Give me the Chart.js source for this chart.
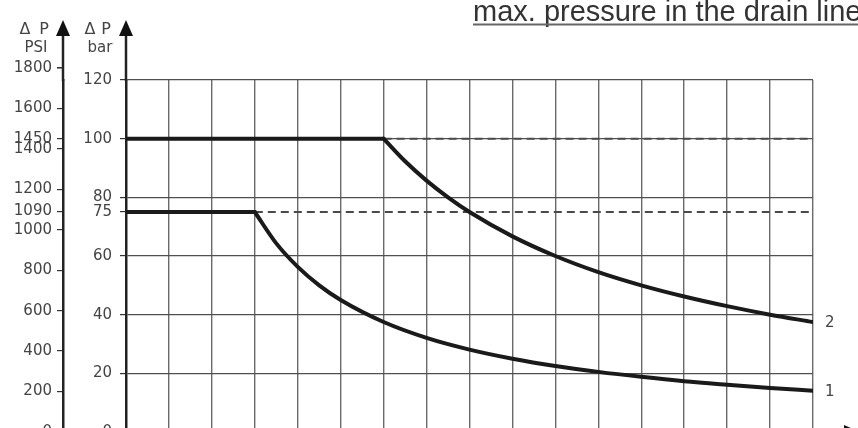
<!DOCTYPE html>
<html>
<head>
<meta charset="utf-8">
<script src="https://cdn.jsdelivr.net/npm/chart.js@4.4.1/dist/chart.umd.min.js"></script>
<style>
  html, body { margin: 0; padding: 0; background: #fff; overflow: hidden; }
  #wrap { width: 858px; height: 428px; overflow: hidden; }
</style>
</head>
<body>
<div id="wrap"><canvas id="chart" width="858" height="480"></canvas></div>
<script>
  // Curve 2: flat section then decline (x = grid divisions, y = delta P in bar)
  var curve2FlatX = [0, 6];
  var curve2FlatY = [100, 100];
  var curve2DropX = [6, 6.5, 7, 7.5, 8, 9, 10, 11, 12, 13, 14, 15, 16];
  var curve2DropY = [100, 92.3, 85.7, 80, 75, 66.7, 60, 54.5, 50, 46.2, 42.9, 40, 37.5];

  // Curve 1
  var curve1FlatX = [0, 3];
  var curve1FlatY = [75, 75];
  var curve1DropX = [3, 3.5, 4, 4.5, 5, 6, 7, 8, 9, 10, 11, 12, 13, 14, 15, 16];
  var curve1DropY = [75, 64.3, 56.3, 50, 45, 37.5, 32.1, 28.1, 25, 22.5, 20.5, 18.8, 17.3, 16.1, 15, 14.1];

  // Dashed continuation of the limits
  var limit2X = [6, 16];
  var limit2Y = [100, 100];
  var limit1X = [3, 16];
  var limit1Y = [75, 75];

  var barTicks = [0, 20, 40, 60, 75, 80, 100, 120];
  var psiTicks = [0, 200, 400, 600, 800, 1000, 1090, 1200, 1400, 1450, 1600, 1800];
  var curveNames = ['2', '1'];
  var titleText = 'max. pressure in the drain line';

  function pts(xs, ys) {
    return xs.map(function (x, i) { return { x: x, y: ys[i] }; });
  }
  function plain(v) { return String(v); }

  var textCol = '#444';
  var axisCol = '#222';
  var tickFont = { family: 'DejaVu Sans', size: 15 };

  var curveStyle = {
    borderColor: '#1a1a1a',
    borderWidth: 4,
    pointRadius: 0,
    fill: false,
    borderCapStyle: 'round',
    borderJoinStyle: 'round'
  };
  var dashStyle = {
    borderColor: '#4a4a4a',
    borderWidth: 2,
    borderDash: [8, 5],
    pointRadius: 0,
    fill: false
  };

  var decor = {
    id: 'decor',
    afterDraw: function (chart) {
      var ctx = chart.ctx;
      var area = chart.chartArea;
      var yBar = chart.scales.y;
      var yPsi = chart.scales.y2;
      ctx.save();

      // axis extensions with arrow heads
      [yPsi.right, yBar.right].forEach(function (ax) {
        ctx.strokeStyle = axisCol;
        ctx.lineWidth = 2.5;
        ctx.beginPath();
        ctx.moveTo(ax, area.top + 1);
        ctx.lineTo(ax, 34);
        ctx.stroke();
        ctx.fillStyle = '#111';
        ctx.beginPath();
        ctx.moveTo(ax, 20);
        ctx.lineTo(ax - 7, 36);
        ctx.lineTo(ax + 7, 36);
        ctx.closePath();
        ctx.fill();
      });

      // 1800 psi tick sits above the plot area
      var y1800 = yPsi.getPixelForValue(1800);
      ctx.strokeStyle = '#333';
      ctx.lineWidth = 1.2;
      ctx.beginPath();
      ctx.moveTo(yPsi.right - 6, y1800);
      ctx.lineTo(yPsi.right, y1800);
      ctx.stroke();

      // x axis arrow
      ctx.strokeStyle = axisCol;
      ctx.lineWidth = 2.5;
      ctx.beginPath();
      ctx.moveTo(area.right, area.bottom);
      ctx.lineTo(850, area.bottom);
      ctx.stroke();
      ctx.fillStyle = '#111';
      ctx.beginPath();
      ctx.moveTo(860, area.bottom);
      ctx.lineTo(844, area.bottom - 7);
      ctx.lineTo(844, area.bottom + 7);
      ctx.closePath();
      ctx.fill();

      // axis captions
      ctx.fillStyle = textCol;
      ctx.font = '16px "DejaVu Sans"';
      ctx.textAlign = 'center';
      ctx.textBaseline = 'middle';
      ctx.fillText('\u0394', yPsi.right - 38, 30);
      ctx.fillText('P', yPsi.right - 19, 30);
      ctx.fillText('\u0394', yBar.right - 36, 30);
      ctx.fillText('P', yBar.right - 20, 30);
      ctx.font = '15px "DejaVu Sans"';
      ctx.fillText('PSI', yPsi.right - 27, 48);
      ctx.fillText('bar', yBar.right - 26, 48);

      // curve numbers
      ctx.font = '15px "DejaVu Sans"';
      ctx.textAlign = 'left';
      [1, 3].forEach(function (di, k) {
        var meta = chart.getDatasetMeta(di);
        var last = meta.data[meta.data.length - 1];
        ctx.fillText(curveNames[k], last.x + 12, last.y + 1);
      });

      // title
      ctx.fillStyle = '#333';
      ctx.font = '29px "Liberation Sans"';
      ctx.textAlign = 'left';
      ctx.textBaseline = 'alphabetic';
      ctx.fillText(titleText, 473, 21);
      var w = ctx.measureText(titleText).width;
      ctx.fillStyle = '#666';
      ctx.fillRect(473, 23.5, w, 2);

      ctx.restore();
    }
  };

  new Chart(document.getElementById('chart').getContext('2d'), {
    type: 'line',
    data: {
      datasets: [
        Object.assign({ data: pts(curve2FlatX, curve2FlatY) }, curveStyle),
        Object.assign({ data: pts(curve2DropX, curve2DropY), cubicInterpolationMode: 'monotone' }, curveStyle),
        Object.assign({ data: pts(curve1FlatX, curve1FlatY) }, curveStyle),
        Object.assign({ data: pts(curve1DropX, curve1DropY), cubicInterpolationMode: 'monotone' }, curveStyle),
        Object.assign({ data: pts(limit2X, limit2Y) }, dashStyle),
        Object.assign({ data: pts(limit1X, limit1Y) }, dashStyle)
      ]
    },
    options: {
      responsive: false,
      animation: false,
      devicePixelRatio: 1,
      layout: { padding: { top: 80, right: 45, bottom: 48, left: 0 } },
      plugins: {
        legend: { display: false },
        tooltip: { enabled: false },
        title: { display: false }
      },
      scales: {
        x: {
          type: 'linear',
          min: 0,
          max: 16,
          ticks: { display: false, stepSize: 1 },
          grid: {
            color: function (c) { return c.tick && c.tick.value === 0 ? 'rgba(0,0,0,0)' : '#6a6a6a'; },
            lineWidth: 1.4,
            drawTicks: false
          },
          border: { display: true, color: axisCol, width: 2.5 },
          afterFit: function (s) { s.height = 0; }
        },
        y: {
          type: 'linear',
          position: 'left',
          weight: 0,
          min: 0,
          max: 120,
          afterBuildTicks: function (s) {
            s.ticks = barTicks.map(function (v) { return { value: v }; });
          },
          ticks: { color: textCol, font: tickFont, padding: 8, autoSkip: false, callback: plain },
          grid: {
            color: function (c) {
              var v = c.tick ? c.tick.value : null;
              return (v === 75 || v === 0) ? 'rgba(0,0,0,0)' : '#505050';
            },
            lineWidth: 1.2,
            tickColor: '#333',
            tickLength: 6
          },
          border: { display: true, color: axisCol, width: 2.5 },
          afterFit: function (s) { s.width = 63; }
        },
        y2: {
          type: 'linear',
          position: 'left',
          weight: 1,
          min: 0,
          max: 1740,
          afterBuildTicks: function (s) {
            s.ticks = psiTicks.map(function (v) { return { value: v }; });
          },
          ticks: { color: textCol, font: tickFont, padding: 5, autoSkip: false, callback: plain },
          grid: {
            drawOnChartArea: false,
            color: '#333',
            tickColor: '#333',
            lineWidth: 1.2,
            tickLength: 6
          },
          border: { display: true, color: axisCol, width: 2.5 },
          afterFit: function (s) { s.width = 63; }
        }
      }
    },
    plugins: [decor]
  });
</script>
</body>
</html>
